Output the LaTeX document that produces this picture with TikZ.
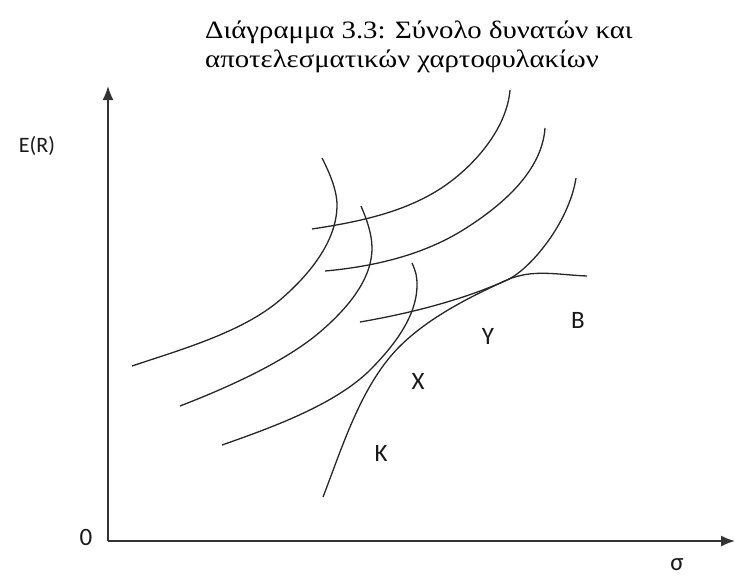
\documentclass[tikz,border=0pt]{standalone}
\usepackage{fontspec}
\setmainfont{Liberation Serif}
\newfontfamily\ttlfont[FakeStretch=1.15]{Liberation Serif}
\newfontfamily\lblfont{Carlito}
\usetikzlibrary{arrows.meta}
\tikzset{
  axis/.style={line width=1.6pt, draw=black!80, -{Latex[length=14pt,width=11pt]}},
  curve/.style={line width=1.3pt, draw=black!85},
  lbl/.style={font=\lblfont\fontsize{25}{30}\selectfont, text=black!90, inner sep=0pt},
  ttl/.style={font=\ttlfont\fontsize{25}{30}\selectfont, inner sep=0pt, anchor=base west},
}
\begin{document}
\begin{tikzpicture}[x=1pt,y=-1pt]
\useasboundingbox (0,0) rectangle (735,576);
% title
\node[ttl] (title1) at (205,38) {Διάγραμμα 3.3: Σύνολο δυνατών και};
\node[ttl] (title2) at (205,67) {αποτελεσματικών χαρτοφυλακίων};
% axes
\coordinate (O) at (108,541);
\coordinate (ytip) at (108,86);
\coordinate (xtip) at (735,541);
\draw[axis] (O) -- (ytip);
\draw[axis] (O) -- (xtip);
\node[lbl, font=\lblfont\fontsize{22}{26}\selectfont] (ER) at (37,146) {E(R)};
\node[lbl] (zero) at (86,537) {0};
\node[lbl] (sigma) at (677,565) {σ};
% bent curves
\draw[curve] (322,158) .. controls (329,171.5) and (337,190) .. (337,205)
  .. controls (337,242) and (308,276) .. (280,300)
  .. controls (242,332.5) and (179.5,350) .. (132,366);
\draw[curve] (361,206) .. controls (366.6,219) and (372,234) .. (372,248)
  .. controls (372,281) and (345,310.5) .. (320,332)
  .. controls (283.5,363) and (224.6,388.7) .. (180,406);
\draw[curve] (412,263) .. controls (416,272) and (417,276) .. (417,285)
  .. controls (417,317) and (392.4,347.6) .. (370,370)
  .. controls (335,405) and (269,428.5) .. (222,445);
% indifference curves
\draw[curve] (312,229) .. controls (360.5,221.6) and (410.8,211.4) .. (450,182)
  .. controls (478.8,160.4) and (507,126) .. (510,90);
\draw[curve] (325,271) .. controls (372.8,266.7) and (422.2,255.4) .. (463,230)
  .. controls (500.4,206.7) and (542,172) .. (545,128);
\draw[curve] (360,322) .. controls (409,313.5) and (461.5,300.5) .. (507,280)
  .. controls (529.8,269.8) and (569,223) .. (576,178);
% efficient frontier
\draw[curve] (323,497) .. controls (341,450.5) and (358,395.5) .. (390,357)
  .. controls (418.8,322.4) and (466,298.5) .. (507,280)
  .. controls (532.5,268.5) and (559,275) .. (587,276);
% point labels
\node[lbl] (K) at (381,453) {K};
\node[lbl] (X) at (418,381) {X};
\node[lbl] (Y) at (488,336) {Y};
\node[lbl] (B) at (578,320) {B};
\end{tikzpicture}
\end{document}
